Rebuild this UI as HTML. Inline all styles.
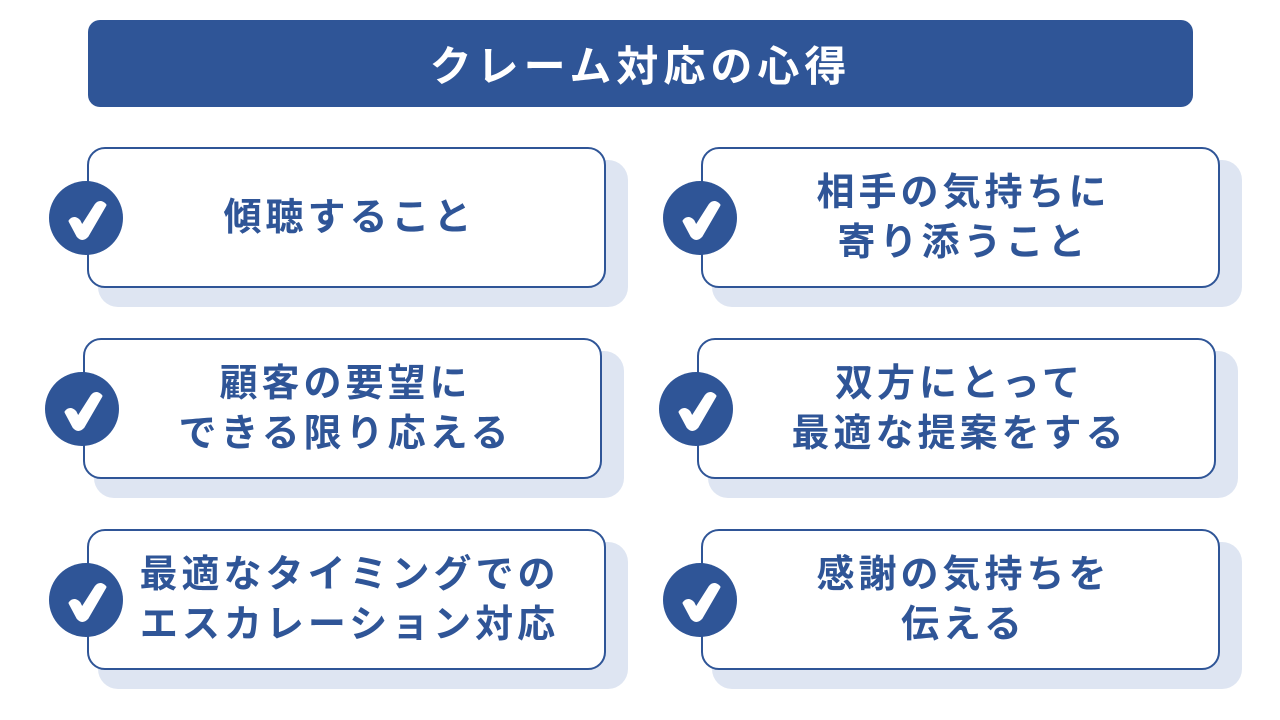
<!DOCTYPE html>
<html><head><meta charset="utf-8"><style>
body{margin:0;width:1280px;height:720px;background:#fff;position:relative;overflow:hidden;font-family:"Liberation Sans","Noto Sans CJK JP",sans-serif;}
.hdr{position:absolute;left:88px;top:20px;width:1105px;height:87px;background:#2f5597;border-radius:12px;color:#fff;font-weight:bold;font-size:42px;letter-spacing:5px;display:flex;align-items:center;justify-content:center;}
.sh{position:absolute;width:530px;height:147px;background:#dee5f2;border-radius:20px;}
.box{position:absolute;width:515px;height:137px;border:2.5px solid #2f5597;border-radius:18px;background:#fff;box-sizing:content-box;display:flex;align-items:center;justify-content:center;text-align:center;color:#2f5597;font-weight:bold;font-size:38px;letter-spacing:4px;line-height:50px;}
.box span{display:block;margin-left:6px;}
.c{position:absolute;width:74px;height:74px;border-radius:50%;background:#2f5597;}
.c svg{position:absolute;left:0;top:0}
</style></head><body>
<div class="hdr">クレーム対応の心得</div>

<div class="sh" style="left:98px;top:160px"></div><div class="box" style="left:87px;top:147px"><span>傾聴すること</span></div>
<div class="sh" style="left:712px;top:160px"></div><div class="box" style="left:701px;top:147px"><span>相手の気持ちに<br>寄り添うこと</span></div>
<div class="sh" style="left:94px;top:351px"></div><div class="box" style="left:83px;top:338px"><span>顧客の要望に<br>できる限り応える</span></div>
<div class="sh" style="left:708px;top:351px"></div><div class="box" style="left:697px;top:338px"><span>双方にとって<br>最適な提案をする</span></div>
<div class="sh" style="left:98px;top:542px"></div><div class="box" style="left:87px;top:529px"><span>最適なタイミングでの<br>エスカレーション対応</span></div>
<div class="sh" style="left:712px;top:542px"></div><div class="box" style="left:701px;top:529px"><span>感謝の気持ちを<br>伝える</span></div>

<div class="c" style="left:49px;top:181px"><svg width="74" height="74"><path d="M21 40 Q25 35 30 40 L33 46 L47 24 Q51 19 56 24 L38 55 Q33 60 29 55 Z" fill="#fff" stroke="#fff" stroke-width="3" stroke-linejoin="round"/></svg></div>
<div class="c" style="left:663px;top:181px"><svg width="74" height="74"><path d="M21 40 Q25 35 30 40 L33 46 L47 24 Q51 19 56 24 L38 55 Q33 60 29 55 Z" fill="#fff" stroke="#fff" stroke-width="3" stroke-linejoin="round"/></svg></div>
<div class="c" style="left:45px;top:372px"><svg width="74" height="74"><path d="M21 40 Q25 35 30 40 L33 46 L47 24 Q51 19 56 24 L38 55 Q33 60 29 55 Z" fill="#fff" stroke="#fff" stroke-width="3" stroke-linejoin="round"/></svg></div>
<div class="c" style="left:659px;top:372px"><svg width="74" height="74"><path d="M21 40 Q25 35 30 40 L33 46 L47 24 Q51 19 56 24 L38 55 Q33 60 29 55 Z" fill="#fff" stroke="#fff" stroke-width="3" stroke-linejoin="round"/></svg></div>
<div class="c" style="left:49px;top:563px"><svg width="74" height="74"><path d="M21 40 Q25 35 30 40 L33 46 L47 24 Q51 19 56 24 L38 55 Q33 60 29 55 Z" fill="#fff" stroke="#fff" stroke-width="3" stroke-linejoin="round"/></svg></div>
<div class="c" style="left:663px;top:563px"><svg width="74" height="74"><path d="M21 40 Q25 35 30 40 L33 46 L47 24 Q51 19 56 24 L38 55 Q33 60 29 55 Z" fill="#fff" stroke="#fff" stroke-width="3" stroke-linejoin="round"/></svg></div>
</body></html>
